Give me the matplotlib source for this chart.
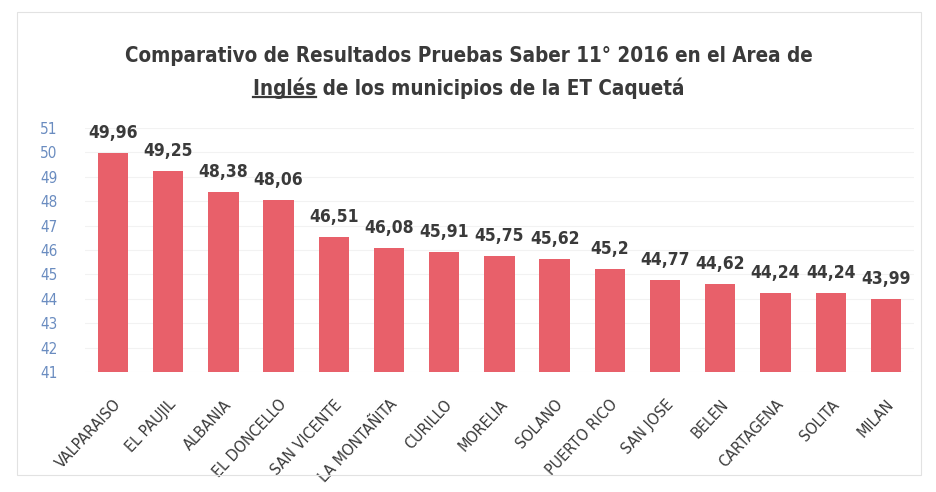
import matplotlib
matplotlib.use("Agg")
import matplotlib.pyplot as plt
from matplotlib import font_manager as fm
from matplotlib.patches import Rectangle

municipios = ["VALPARAISO", "EL PAUJIL", "ALBANIA", "EL DONCELLO", "SAN VICENTE",
              "LA MONTAÑITA", "CURILLO", "MORELIA", "SOLANO", "PUERTO RICO",
              "SAN JOSE", "BELEN", "CARTAGENA", "SOLITA", "MILAN"]
puntajes = [49.96, 49.25, 48.38, 48.06, 46.51, 46.08, 45.91, 45.75, 45.62, 45.2,
            44.77, 44.62, 44.24, 44.24, 43.99]
y_ticks = list(range(41, 52))

# look for a condensed / narrow bold font
cands = [f for f in fm.fontManager.ttflist
         if ("ondensed" in f.fname or "Narrow" in f.fname)]
bold = [f for f in cands if "Bold" in f.fname and "Oblique" not in f.fname and "Italic" not in f.fname]
reg = [f for f in cands if "Bold" not in f.fname and "Oblique" not in f.fname and "Italic" not in f.fname]
if bold:
    fp_bold = fm.FontProperties(fname=bold[0].fname)
    cond = True
else:
    fp_bold = fm.FontProperties(family="DejaVu Sans", weight="bold")
    cond = False
fp_reg = fm.FontProperties(fname=reg[0].fname) if reg else fm.FontProperties(family="DejaVu Sans")

fig = plt.figure(figsize=(9.37, 4.92), dpi=100)
fig.patch.set_facecolor("white")
ax = fig.add_axes([0.091, 0.244, 0.884, 0.496])

x = list(range(len(municipios)))
ax.bar(x, puntajes, width=0.55, color="#e8606a", zorder=2)
ax.set_xlim(-0.5, len(municipios) - 0.5)
ax.set_ylim(41, 51)
ax.set_yticks(y_ticks)
ax.set_yticklabels([str(t) for t in y_ticks], color="#6a8cc0", fontproperties=fp_reg, fontsize=11)
ax.grid(axis="y", color="#f2f2f2", linewidth=0.8, zorder=0)
for s in ax.spines.values():
    s.set_visible(False)
ax.tick_params(axis="both", length=0)
ax.tick_params(axis="y", pad=20)
ax.set_xticks(x)
ax.set_xticklabels(municipios, rotation=47, ha="right", rotation_mode="anchor",
                   fontproperties=fp_reg, fontsize=11.5 if cond else 9.5, color="#3a3a3a")
ax.tick_params(axis="x", pad=18)

for xi, v in zip(x, puntajes):
    ax.annotate(str(v).replace(".", ","), (xi, v), xytext=(0, 8), textcoords="offset points",
                ha="center", va="bottom", fontproperties=fp_bold, fontsize=12.5 if cond else 11.5,
                color="#3a3a3a")

# Title
tfs = 14.8 if cond else 13
fig.text(0.5, 0.887, "Comparativo de Resultados Pruebas Saber 11° 2016 en el Area de",
         ha="center", va="center", fontproperties=fp_bold, fontsize=tfs, color="#3a3a3a")
t1 = fig.text(0.5, 0.82, "Inglés de los municipios de la ET Caquetá",
              ha="center", va="center", fontproperties=fp_bold, fontsize=tfs, color="#3a3a3a")
fig.canvas.draw()
r = fig.canvas.get_renderer()
bb = t1.get_window_extent(r)
sub = fig.text(0, 0, "Inglés", fontproperties=fp_bold, fontsize=tfs)
sb = sub.get_window_extent(r)
sub.remove()
W, H = fig.bbox.width, fig.bbox.height
x0 = bb.x0 / W
x1 = (bb.x0 + sb.width) / W
yl = (bb.y0 + 2) / H
fig.add_artist(plt.Line2D([x0, x1], [yl, yl], color="#3a3a3a", linewidth=1.6))

fig.add_artist(Rectangle((0.018, 0.035), 0.965, 0.94, transform=fig.transFigure,
                         fill=False, edgecolor="#e2e2e2", linewidth=0.8))

fig.savefig("out.png", dpi=100, facecolor="white")
